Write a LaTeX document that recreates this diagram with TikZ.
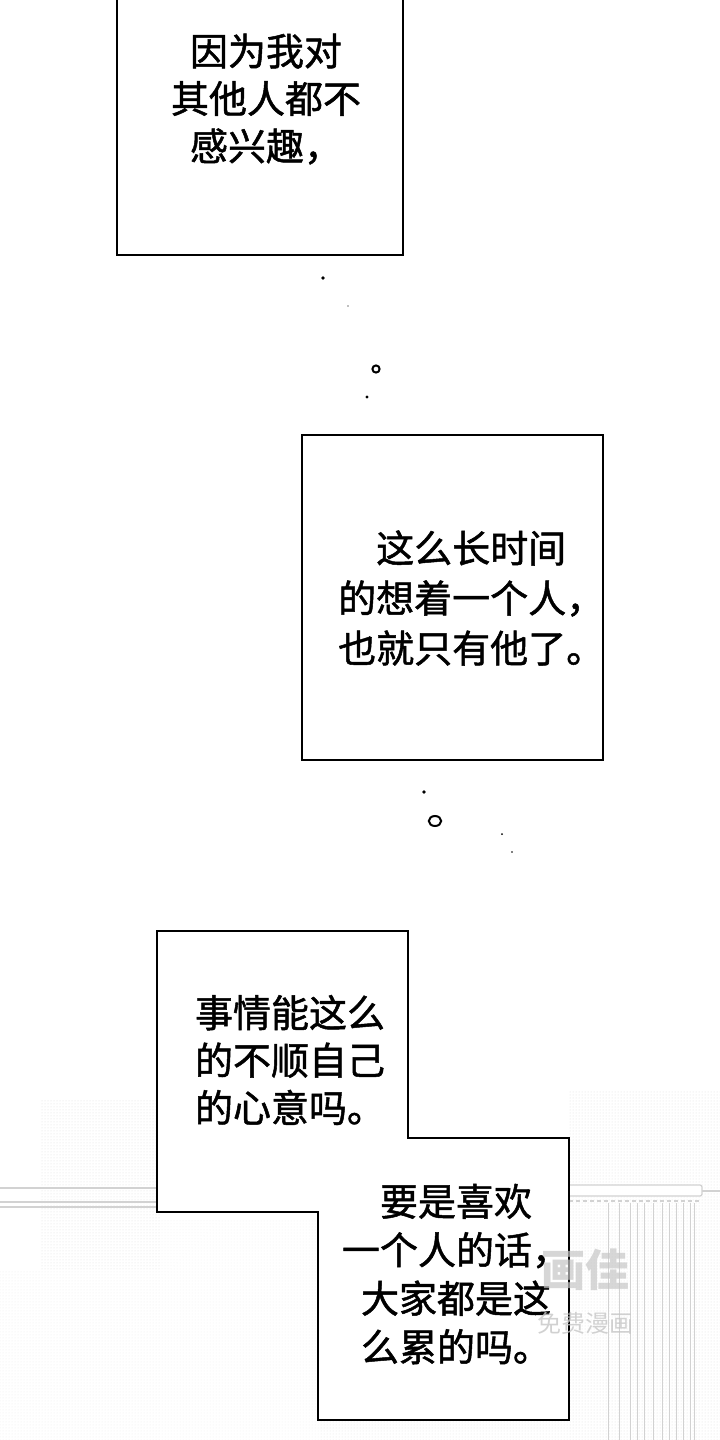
\documentclass[tikz,border=0pt]{standalone}
\usepackage{fontspec}
\newfontfamily\cjk[FakeBold=1.3]{Noto Sans CJK SC}
\newfontfamily\cjkmark{Noto Sans CJK SC}
\usetikzlibrary{patterns}

\begin{document}
\begin{tikzpicture}[x=1pt,y=-1pt,
    caption/.style={draw=black, line width=1.8pt, fill=white},
    words/.style={font=\cjk\fontsize{38}{47.5}\selectfont, inner sep=0pt, align=center},
    rail/.style={draw=gray!35, line width=1.3pt},
    halftone/.style={pattern=dots, pattern color=gray!60}]

    \useasboundingbox (0,0) rectangle (720,1440);

    % Faint screentone behind the last caption
    \fill[halftone, opacity=0.45] (40,1100) rectangle (160,1270);
    \fill[halftone, opacity=0.25] (0,1270) rectangle (160,1440);
    \fill[halftone, opacity=0.2] (160,1220) rectangle (320,1440);
    \fill[halftone, opacity=0.45] (569,1090) rectangle (720,1440);
    \fill[halftone, opacity=0.4] (320,1400) rectangle (569,1440);

    % Rails on the left of the caption
    \draw[rail] (0,1188) -- (160,1188);
    \draw[rail] (0,1202) -- (160,1202);
    \draw[rail] (0,1207) -- (160,1207);

    % Curtain rod and curtain on the right
    \draw[rail, fill=white, rounded corners=2pt] (560,1185) -- (702,1185) -- (702,1196) -- (560,1196);
    \draw[rail] (702,1191) -- (720,1191);
    \draw[rail, line width=2pt, dash pattern=on 4pt off 3pt] (569,1201) -- (700,1201);
    \foreach \x in {608,619,630,637,644,653,662,669,676,683,690,694}
        \draw[rail, line width=0.9pt] (\x,1203) -- (\x,1440);

    % Draw the caption boxes
    \draw[caption] (117,-5) |- (403,255) -- (403,-5);
    \draw[caption] (302,435) rectangle (603,760);
    \draw[caption] (157,931) -- (408,931) -- (408,1138) -- (569,1138) -- (569,1420)
        -- (318,1420) -- (318,1212) -- (157,1212) -- cycle;

    % Add the captions
    \node[words] (first) at (266,99) {因为我对\\其他人都不\\感兴趣，};
    \node[words, align=left, font=\cjk\fontsize{38}{50}\selectfont, anchor=west] (second) at (338,598)
        {　这么长时间\\的想着一个人，\\也就只有他了。};
    \node[words] (third) at (290,1060) {事情能这么\\的不顺自己\\的心意吗。};
    \node[words, font=\cjk\fontsize{38}{48.5}\selectfont] (fourth) at (456,1274)
        {要是喜欢\\一个人的话，\\大家都是这\\么累的吗。};

    % Add the little marks between the captions
    \fill (323,278) circle (1.8);
    \fill[gray] (348,306) circle (0.9);
    \draw[line width=2pt] (376,369) circle (3.6);
    \fill (367,397) circle (1.7);
    \fill (424,792) circle (1.8);
    \draw[line width=2pt] (435,821) ellipse (6.2 and 5);
    \fill (502,834) circle (1);
    \fill (512,852) circle (0.9);

    % Watermark
    \node[text=gray!45, opacity=0.7, inner sep=0pt, font=\cjkmark\bfseries\fontsize{44}{44}\selectfont] (logo) at (585,1270) {画佳};
    \node[text=gray!45, opacity=0.8, inner sep=0pt, font=\cjkmark\fontsize{24}{24}\selectfont] (free) at (585,1323) {免费漫画};

\end{tikzpicture}
\end{document}
